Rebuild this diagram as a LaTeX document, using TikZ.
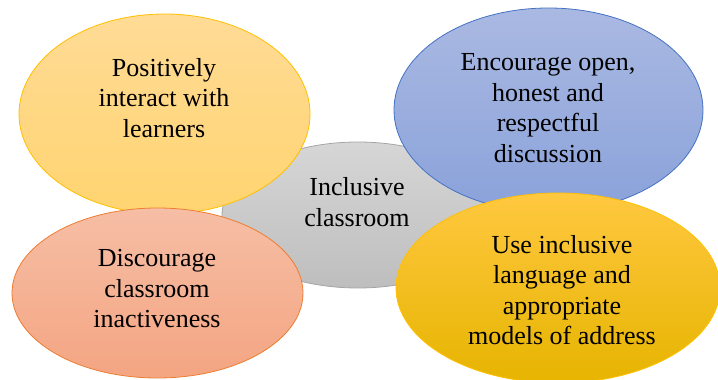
\documentclass[tikz,border=0pt]{standalone}
\usepackage{fontspec}
\setmainfont{Liberation Serif}
\usetikzlibrary{shapes.geometric}
\begin{document}
\begin{tikzpicture}[x=1pt,y=-1pt,
  blob/.style={ellipse, inner sep=0pt, line width=0.8pt},
  txt/.style={align=center, font=\fontsize{26}{30.5}\selectfont, text=black, inner sep=0pt}]
\useasboundingbox (0,0) rectangle (718,380);
% centre
\node[blob, draw={rgb,255:red,165;green,165;blue,165}, top color={rgb,255:red,214;green,214;blue,214}, bottom color={rgb,255:red,190;green,190;blue,190}, minimum width=272pt, minimum height=146pt] (gray) at (358,215) {};
% top left
\node[blob, draw={rgb,255:red,255;green,192;blue,0}, top color={rgb,255:red,255;green,219;blue,150}, bottom color={rgb,255:red,255;green,212;blue,112}, minimum width=291pt, minimum height=200pt] (tl) at (164.5,114) {};
% top right
\node[blob, draw={rgb,255:red,68;green,114;blue,196}, top color={rgb,255:red,170;green,185;blue,226}, bottom color={rgb,255:red,138;green,162;blue,218}, minimum width=309pt, minimum height=204pt] (tr) at (548.5,110) {};
% bottom left
\node[blob, draw={rgb,255:red,237;green,125;blue,49}, top color={rgb,255:red,246;green,190;blue,165}, bottom color={rgb,255:red,244;green,165;blue,130}, minimum width=291pt, minimum height=170pt] (bl) at (157.5,293) {};
% bottom right
\node[blob, draw={rgb,255:red,255;green,192;blue,0}, top color={rgb,255:red,255;green,200;blue,64}, bottom color={rgb,255:red,230;green,180;blue,0}, minimum width=324pt, minimum height=190pt] (br) at (558,288) {};
% texts
\node[txt] (tgray) at (357,202) {Inclusive\\classroom};
\node[txt] (ttl) at (164,98) {Positively\\interact with\\learners};
\node[txt] (ttr) at (548,108) {Encourage open,\\honest and\\respectful\\discussion};
\node[txt] (tbl) at (157,289) {Discourage\\classroom\\inactiveness};
\node[txt] (tbr) at (562,290) {Use inclusive\\language and\\appropriate\\models of address};
\end{tikzpicture}
\end{document}
